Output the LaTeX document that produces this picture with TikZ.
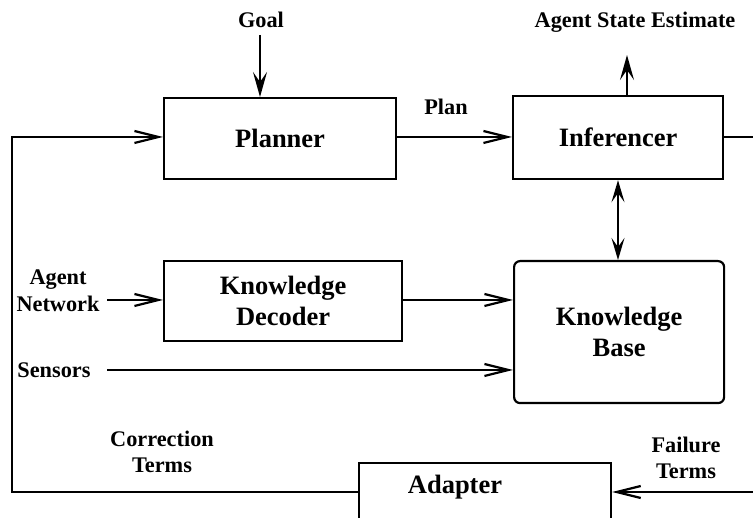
\documentclass[tikz,border=0pt]{standalone}
\usepackage{fontspec}
\setmainfont{Liberation Serif}
\usetikzlibrary{arrows.meta}
\newcommand\myboxfont{\fontsize{26.5}{31}\selectfont\bfseries}
\newcommand\mylblfont{\fontsize{22.3}{26.5}\selectfont\bfseries}
\begin{document}
\begin{tikzpicture}[x=1pt,y=-1pt,
  box/.style={draw, line width=2.2pt, inner sep=0pt, font=\myboxfont, align=center, anchor=north west},
  lbl/.style={inner sep=0pt, font=\mylblfont, align=center},
  conn/.style={line width=2.2pt, -{Straight Barb[length=24pt,width=12pt,line width=2.2pt]}},
  plain/.style={line width=2.2pt},
  vconn/.style={line width=2.2pt, -{Stealth[length=25pt,width=14pt,inset=10pt]}},
  dconn/.style={line width=2.2pt, {Stealth[length=22pt,width=13pt,inset=9pt]}-{Stealth[length=22pt,width=13pt,inset=9pt]}}]
\useasboundingbox (0,0) rectangle (753,518);
\clip (0,0) rectangle (753,518);
% boxes
\node[box, minimum width=232pt, minimum height=81pt] (planner) at (163,97) {Planner};
\node[box, minimum width=210pt, minimum height=83pt] (infer) at (512,95) {Inferencer};
\node[box, minimum width=238pt, minimum height=80pt] (kd) at (163,260) {Knowledge\\Decoder};
\node[box, minimum width=210pt, minimum height=142pt, rounded corners=6pt] (kb) at (513,260) {Knowledge\\Base};
\node[box, minimum width=252pt, minimum height=120pt] (adapter) at (358,462) {};
\node[inner sep=0pt, font=\myboxfont] (adaptertext) at (455,487) {Adapter};
% labels
\node[lbl, anchor=base] (goal) at (261,28) {Goal};
\node[lbl, anchor=base] (plan) at (446,115) {Plan};
\node[lbl, anchor=base] (ase) at (635,28) {Agent State Estimate};
\node[lbl] (agentnet) at (58,291) {Agent\\Network};
\node[lbl, anchor=base] (sensors) at (54,378) {Sensors};
\node[lbl] (corr) at (162,452) {Correction\\Terms};
\node[lbl] (fail) at (686,458) {Failure\\Terms};
% free ends
\coordinate (goalsrc) at (260,35);
\coordinate (asetip) at (627,55);
\coordinate (netsrc) at (107,300);
\coordinate (sensrc) at (107,370);
\coordinate (inferout) at (760,137);
\coordinate (failsrc) at (760,492);
\coordinate (leftbot) at (12,492);
\coordinate (lefttop) at (12,137);
% connectors
\draw[vconn] (goalsrc) -- (goalsrc |- planner.north);
\draw[vconn] (asetip |- infer.north) -- (asetip);
\draw[conn] (planner.east |- lefttop) -- (infer.west |- lefttop);
\draw[plain] (infer.east |- lefttop) -- (inferout);
\draw[dconn] (618,0 |- infer.south) -- (618,0 |- kb.north);
\draw[conn] (netsrc) -- (kd.west |- netsrc);
\draw[conn] (kd.east |- netsrc) -- (kb.west |- netsrc);
\draw[conn] (sensrc) -- (kb.west |- sensrc);
\draw[conn] (failsrc) -- (adapter.east |- failsrc);
\draw[conn] (adapter.west |- leftbot) -- (leftbot) -- (lefttop) -- (planner.west |- lefttop);
\end{tikzpicture}
\end{document}
